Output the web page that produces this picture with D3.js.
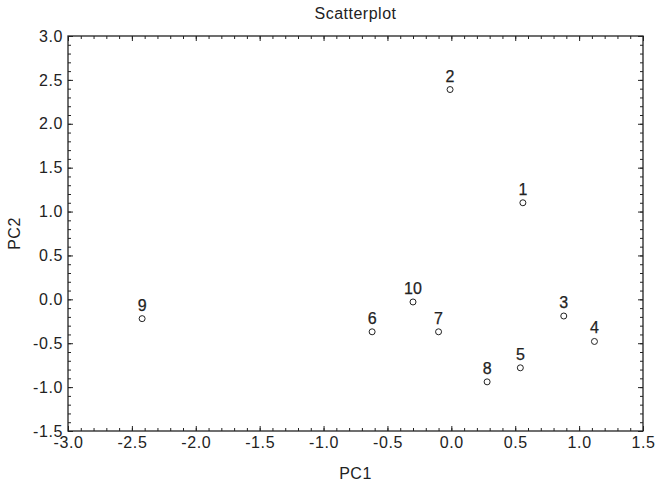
<!DOCTYPE html>
<html>
<head>
<meta charset="utf-8">
<script src="https://cdn.jsdelivr.net/npm/d3@7"></script>
<style>
  body { margin: 0; background: #fff; }
  svg text { font-family: "Liberation Sans", Arial, sans-serif; fill: #222; }
</style>
</head>
<body>
<svg id="chart" width="657" height="487"></svg>
<script>
// point labels and PCA scores
const labels = ['1', '2', '3', '4', '5', '6', '7', '8', '9', '10'];
const pc1 = [0.56, -0.01, 0.88, 1.12, 0.54, -0.62, -0.10, 0.28, -2.42, -0.30];
const pc2 = [1.10, 2.39, -0.19, -0.48, -0.78, -0.37, -0.37, -0.94, -0.22, -0.03];

const xTicks = [-3.0, -2.5, -2.0, -1.5, -1.0, -0.5, 0.0, 0.5, 1.0, 1.5];
const yTicks = [-1.5, -1.0, -0.5, 0.0, 0.5, 1.0, 1.5, 2.0, 2.5, 3.0];

const margin = { top: 36, right: 14, bottom: 56, left: 68 };
const width = 657, height = 487;
const innerW = width - margin.left - margin.right;
const innerH = height - margin.top - margin.bottom;

const svg = d3.select('#chart');
const g = svg.append('g').attr('transform', `translate(${margin.left},${margin.top})`);

const x = d3.scaleLinear().domain([-3, 1.5]).range([0, innerW]);
const y = d3.scaleLinear().domain([-1.5, 3]).range([innerH, 0]);

// minor ticks every 0.1
const xMinor = d3.range(-30, 16).map(d => d / 10);
const yMinor = d3.range(-15, 31).map(d => d / 10);

function tickStyle(sel) {
    sel.select('.domain').remove();
    sel.selectAll('line').attr('stroke', '#222').attr('stroke-width', 1);
    sel.selectAll('text')
        .attr('font-size', 16)
        .attr('letter-spacing', 0.6)
        .attr('fill', '#222');
}

// plain hyphen for negatives, as in the original
const fmt = d => d3.format('.1f')(d).replace('\u2212', '-');

// minor ticks, inward on all four sides
g.append('g').attr('transform', `translate(0,${innerH})`)
    .call(d3.axisBottom(x).tickValues(xMinor).tickSize(-3).tickFormat(''))
    .call(tickStyle);
g.append('g')
    .call(d3.axisTop(x).tickValues(xMinor).tickSize(-3).tickFormat(''))
    .call(tickStyle);
g.append('g')
    .call(d3.axisLeft(y).tickValues(yMinor).tickSize(-3).tickFormat(''))
    .call(tickStyle);
g.append('g').attr('transform', `translate(${innerW},0)`)
    .call(d3.axisRight(y).tickValues(yMinor).tickSize(-3).tickFormat(''))
    .call(tickStyle);

// major ticks with labels
g.append('g').attr('transform', `translate(0,${innerH})`)
    .call(d3.axisBottom(x).tickValues(xTicks).tickSize(-5).tickPadding(6).tickFormat(fmt))
    .call(tickStyle);
g.append('g')
    .call(d3.axisTop(x).tickValues(xTicks).tickSize(-5).tickFormat(''))
    .call(tickStyle);
g.append('g')
    .call(d3.axisLeft(y).tickValues(yTicks).tickSize(-5).tickPadding(5).tickFormat(fmt))
    .call(tickStyle);
g.append('g').attr('transform', `translate(${innerW},0)`)
    .call(d3.axisRight(y).tickValues(yTicks).tickSize(-5).tickFormat(''))
    .call(tickStyle);

// frame
g.append('rect')
    .attr('width', innerW).attr('height', innerH)
    .attr('fill', 'none').attr('stroke', '#222').attr('stroke-width', 1.3);

const points = labels.map((l, i) => ({ label: l, x: pc1[i], y: pc2[i] }));

g.selectAll('.pt')
    .data(points)
    .enter()
    .append('circle')
    .attr('class', 'pt')
    .attr('cx', d => x(d.x))
    .attr('cy', d => y(d.y))
    .attr('r', 3)
    .attr('fill', 'none')
    .attr('stroke', '#222')
    .attr('stroke-width', 1);

g.selectAll('.lbl')
    .data(points)
    .enter()
    .append('text')
    .attr('class', 'lbl')
    .attr('x', d => x(d.x))
    .attr('y', d => y(d.y) - 8)
    .attr('text-anchor', 'middle')
    .attr('font-size', 16)
    .attr('stroke', '#222')
    .attr('stroke-width', 0.25)
    .text(d => d.label);

// titles
svg.append('text')
    .attr('x', margin.left + innerW / 2)
    .attr('y', 19)
    .attr('text-anchor', 'middle')
    .attr('font-size', 16)
    .attr('letter-spacing', 0.5)
    .text('Scatterplot');

svg.append('text')
    .attr('x', margin.left + innerW / 2)
    .attr('y', 479)
    .attr('text-anchor', 'middle')
    .attr('font-size', 16)
    .attr('letter-spacing', 0.5)
    .text('PC1');

svg.append('text')
    .attr('transform', `translate(20,${margin.top + innerH / 2}) rotate(-90)`)
    .attr('text-anchor', 'middle')
    .attr('font-size', 16)
    .attr('letter-spacing', 0.5)
    .text('PC2');
</script>
</body>
</html>
